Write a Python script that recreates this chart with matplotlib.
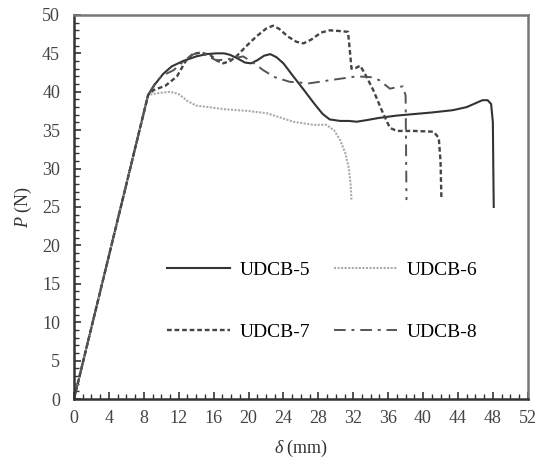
import matplotlib
matplotlib.use('Agg')
import matplotlib.pyplot as plt
from matplotlib.ticker import MultipleLocator

plt.rcParams['font.family'] = 'Liberation Serif'
plt.rcParams['mathtext.fontset'] = 'custom'
plt.rcParams['mathtext.rm'] = 'Liberation Serif'
plt.rcParams['mathtext.it'] = 'Liberation Serif:italic'

# UDCB-5 (solid)
x5 = [0, 8.5, 9.3, 10.2, 11.2, 12.5, 14.0, 15.2, 16.3, 17.2, 17.9, 18.8, 19.6, 20.3,
      21.0, 21.8, 22.5, 23.2, 24.0, 25.0, 26.3, 27.5, 28.5, 29.3, 30.5, 31.5, 32.4,
      33.5, 35.0, 37.0, 39.0, 41.0, 43.4, 45.0, 46.0, 46.8, 47.4, 47.8, 48.0, 48.05, 48.1]
y5 = [0, 39.6, 41.0, 42.3, 43.3, 44.0, 44.6, 44.9, 45.0, 45.0, 44.8, 44.3, 43.8, 43.7,
      44.1, 44.7, 44.9, 44.5, 43.7, 42.2, 40.3, 38.5, 37.1, 36.4, 36.2, 36.2, 36.1,
      36.3, 36.6, 36.9, 37.1, 37.3, 37.6, 38.0, 38.5, 38.9, 38.9, 38.4, 36.0, 30.0, 25.0]
# UDCB-6 (dotted)
x6 = [0, 8.5, 9.5, 11.0, 12.0, 13.0, 14.0, 17.5, 20.0, 22.1, 23.5, 25.1, 27.4, 28.9,
      29.8, 30.5, 31.1, 31.5, 31.7, 31.8]
y6 = [0, 39.6, 39.8, 40.0, 39.7, 38.8, 38.2, 37.7, 37.5, 37.2, 36.7, 36.1, 35.7, 35.7,
      35.0, 33.7, 32.0, 30.0, 28.0, 25.9]
# UDCB-7 (dashed)
x7 = [0, 8.5, 9.1, 10.5, 11.8, 12.8, 13.6, 14.5, 15.6, 16.3, 17.1, 17.9, 18.6, 19.8,
      20.9, 22.0, 22.8, 23.5, 24.5, 25.5, 26.3, 27.2, 28.3, 29.3, 30.5, 31.4, 31.6,
      31.8, 32.3, 32.8, 33.5, 34.3, 35.3, 36.2, 37.0, 39.0, 41.2, 41.8, 42.0, 42.1]
y7 = [0, 39.6, 40.2, 40.8, 42.0, 44.0, 44.9, 45.1, 44.8, 44.1, 43.7, 44.0, 44.6, 46.0,
      47.2, 48.2, 48.6, 48.2, 47.2, 46.5, 46.3, 46.8, 47.7, 48.0, 47.9, 47.8, 45.5,
      43.0, 43.1, 43.4, 42.0, 40.2, 37.5, 35.3, 34.9, 34.9, 34.8, 34.0, 31.0, 26.3]
# UDCB-8 (dash-dot)
x8 = [0, 8.5, 9.5, 10.5, 11.4, 12.5, 13.5, 14.0, 15.0, 16.3, 17.5, 19.4, 20.5, 21.7,
      23.0, 24.7, 27.0, 29.3, 32.4, 34.0, 35.0, 36.2, 37.0, 37.7, 38.0, 38.05, 38.1]
y8 = [0, 39.6, 41.5, 42.3, 42.8, 43.9, 44.8, 45.0, 44.8, 44.1, 44.2, 44.6, 43.8, 42.8,
      41.9, 41.3, 41.1, 41.5, 42.0, 41.9, 41.5, 40.4, 40.6, 40.7, 39.5, 33.0, 25.9]

fig = plt.figure(figsize=(5.38, 4.67), dpi=100)
ax = fig.add_axes([0.1375, 0.1456, 0.8435, 0.8224])

h5, = ax.plot(x5, y5, color='#333333', lw=1.5, ls='-', label='UDCB-5')
h6, = ax.plot(x6, y6, color='#aaaaaa', lw=1.5, ls=(0, (1, 0.7)), label='UDCB-6')
h7, = ax.plot(x7, y7, color='#444444', lw=1.7, ls=(0, (2, 1.2)), label='UDCB-7')
h8, = ax.plot(x8, y8, color='#555555', lw=1.4, ls=(0, (6, 3, 1.5, 3)), label='UDCB-8')

ax.set_xlim(0, 52)
ax.set_ylim(0, 50)
ax.xaxis.set_major_locator(MultipleLocator(4))
ax.xaxis.set_minor_locator(MultipleLocator(1))
ax.yaxis.set_major_locator(MultipleLocator(5))
ax.yaxis.set_minor_locator(MultipleLocator(1))
ax.tick_params(which='both', direction='in', colors='#333333', labelsize=13,
               labelcolor='#444444')
ax.tick_params(which='major', length=5, width=1.2)
ax.tick_params(which='minor', length=3.5, width=1.0)
ax.tick_params(axis='x', pad=8)
ax.tick_params(axis='y', pad=10)
for s in ax.spines.values():
    s.set_color('#777777')
    s.set_linewidth(1.8)
ax.spines['bottom'].set_color('#333333')
ax.spines['left'].set_color('#333333')

ax.set_xlabel(r'$\delta$ (mm)', fontsize=13, color='#333333', labelpad=8)
ax.set_ylabel(r'$P$ (N)', fontsize=13, color='#333333', labelpad=6)

# row-major order: UDCB-5, UDCB-6 / UDCB-7, UDCB-8
ax.legend([h5, h7, h6, h8], ['UDCB-5', 'UDCB-7', 'UDCB-6', 'UDCB-8'],
          loc='center', bbox_to_anchor=(0.547, 0.255), ncol=2, frameon=False,
          fontsize=14, handlelength=3.25, handletextpad=0.5, columnspacing=1.2,
          labelspacing=2.3)

fig.savefig('out.png', dpi=100)
